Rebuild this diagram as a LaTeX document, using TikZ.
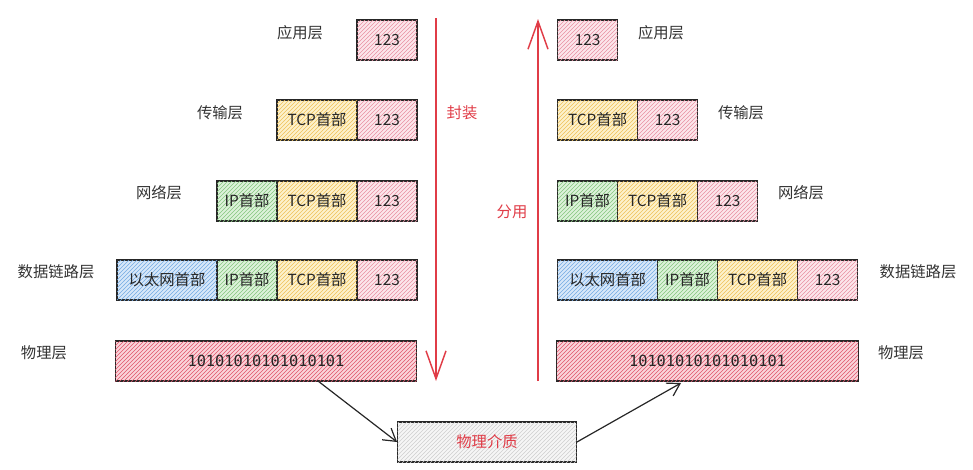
\documentclass[tikz,border=0pt]{standalone}
\usepackage{fontspec}
\setmainfont{Noto Sans CJK SC}
\newfontfamily\bitfont{DejaVu Sans Mono}
\usepackage{xcolor}
\usetikzlibrary{arrows.meta}
\usetikzlibrary{positioning}
\usetikzlibrary{patterns}

\definecolor{pinkFill}{HTML}{FCE6EB}
\definecolor{pinkLine}{HTML}{E891A3}
\definecolor{phyFill}{HTML}{FAD4DA}
\definecolor{phyLine}{HTML}{E0566B}
\definecolor{yellowFill}{HTML}{FDF1CC}
\definecolor{yellowLine}{HTML}{EFC15A}
\definecolor{greenFill}{HTML}{DDF2DA}
\definecolor{greenLine}{HTML}{86C67F}
\definecolor{blueFill}{HTML}{D8E8F9}
\definecolor{blueLine}{HTML}{74ABE3}
\definecolor{grayFill}{HTML}{F6F6F6}
\definecolor{grayLine}{HTML}{CFCFCF}
\definecolor{sketchRed}{HTML}{E03C47}

\tikzset{
	seg/.style={draw=black!85, line width=0.9pt, minimum height=30pt, inner sep=0pt,
		text=black!85, font=\fontsize{11.5}{13}\selectfont},
	hatch/.style 2 args={fill=#1, postaction={pattern=north east lines, pattern color=#2}},
	dataBox/.style={seg, minimum width=45pt, hatch={pinkFill}{pinkLine}},
	tcpBox/.style={seg, minimum width=60pt, hatch={yellowFill}{yellowLine}},
	ipBox/.style={seg, minimum width=45pt, hatch={greenFill}{greenLine}},
	ethBox/.style={seg, minimum width=75pt, hatch={blueFill}{blueLine}},
	phyBox/.style={seg, minimum width=226pt, hatch={phyFill}{phyLine}, font=\bitfont\fontsize{11.5}{13}\selectfont},
	layer/.style={text=black!80, font=\fontsize{11.5}{13}\selectfont},
	flow/.style={draw=sketchRed, line width=1.1pt, -{Straight Barb[length=21pt, width=15pt, line width=1.1pt]}},
	wire/.style={draw=black!85, line width=0.9pt, -{Straight Barb[length=9pt, width=11pt]}}
}

\begin{document}
\begin{tikzpicture}[x=0.75pt, y=-0.75pt]
	\useasboundingbox (0,0) rectangle (973,469);
	% layer names on both sides
	\foreach \lx/\rx/\y/\txt [count=\iLayer] in {300/661/33/应用层, 220/741/113/传输层, 159/801/193/网络层, 56/918/272/数据链路层, 44/901/353/物理层}
	{
		\node[layer] (lLabel\iLayer) at (\lx,\y) {\txt};
		\node[layer] (rLabel\iLayer) at (\rx,\y) {\txt};
	}
	
	% sending side
	\node[dataBox] (lAppData) at (387,40) {123};
	\node[dataBox] (lTpData) at (387,120) {123};
	\node[tcpBox, left=-0.9pt of lTpData] (lTpTcp) {TCP首部};
	\node[dataBox] (lNetData) at (387,201) {123};
	\node[tcpBox, left=-0.9pt of lNetData] (lNetTcp) {TCP首部};
	\node[ipBox, left=-0.9pt of lNetTcp] (lNetIp) {IP首部};
	\node[dataBox] (lLinkData) at (387,280) {123};
	\node[tcpBox, left=-0.9pt of lLinkData] (lLinkTcp) {TCP首部};
	\node[ipBox, left=-0.9pt of lLinkTcp] (lLinkIp) {IP首部};
	\node[ethBox, left=-0.9pt of lLinkIp] (lLinkEth) {以太网首部};
	\node[phyBox] (lPhy) at (266,361) {10101010101010101};
	
	% receiving side
	\node[dataBox, anchor=west] (rAppData) at (557,40) {123};
	\node[tcpBox, anchor=west] (rTpTcp) at (557,120) {TCP首部};
	\node[dataBox, right=-0.9pt of rTpTcp] (rTpData) {123};
	\node[ipBox, anchor=west] (rNetIp) at (557,201) {IP首部};
	\node[tcpBox, right=-0.9pt of rNetIp] (rNetTcp) {TCP首部};
	\node[dataBox, right=-0.9pt of rNetTcp] (rNetData) {123};
	\node[ethBox, anchor=west] (rLinkEth) at (557,280) {以太网首部};
	\node[ipBox, right=-0.9pt of rLinkEth] (rLinkIp) {IP首部};
	\node[tcpBox, right=-0.9pt of rLinkIp] (rLinkTcp) {TCP首部};
	\node[dataBox, right=-0.9pt of rLinkTcp] (rLinkData) {123};
	\node[phyBox] (rPhy) at (707.5,361) {10101010101010101};
	
	\node[seg, minimum width=134pt, hatch={grayFill}{grayLine}, text=sketchRed] (medium) at (487,442) {物理介质};
	
	% encapsulation / demultiplexing
	\coordinate (encTop) at (436,18);
	\coordinate (encBot) at (436,381);
	\coordinate (demBot) at (538,381);
	\coordinate (demTop) at (538,19);
	\draw[flow] (encTop) -- (encBot);
	\draw[flow] (demBot) -- (demTop);
	\node[text=sketchRed, font=\fontsize{11.5}{13}\selectfont] (encLabel) at (462,113) {封装};
	\node[text=sketchRed, font=\fontsize{11.5}{13}\selectfont] (demLabel) at (512,212) {分用};
	
	\coordinate (lOut) at (318,381);
	\coordinate (rIn) at (681,383);
	\draw[wire] (lOut) -- (medium.west);
	\draw[wire] (medium.east) -- (rIn);
\end{tikzpicture}
\end{document}
